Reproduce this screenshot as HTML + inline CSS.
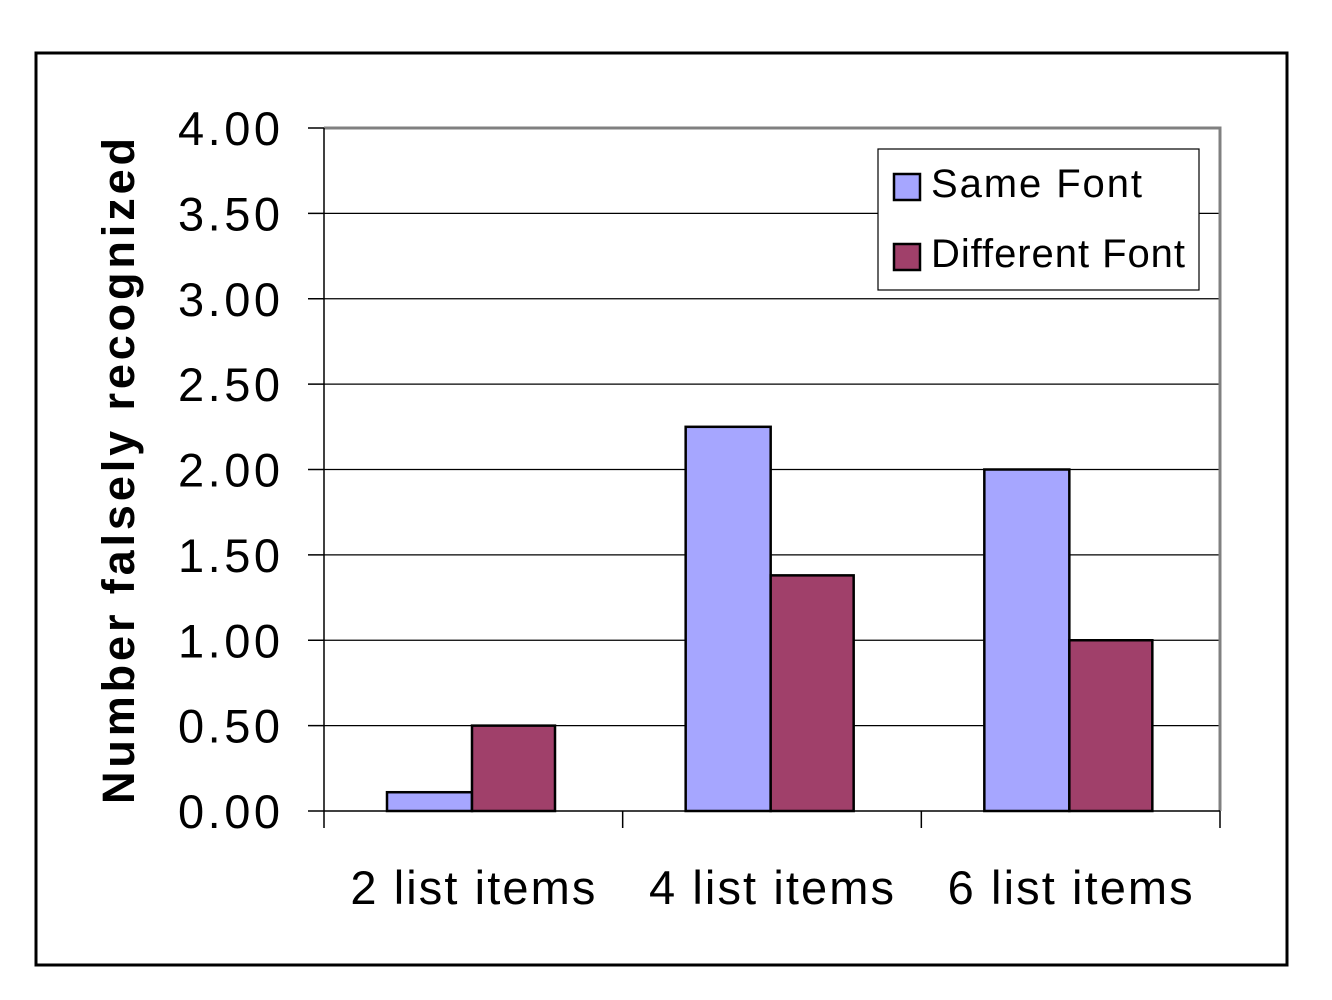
<!DOCTYPE html>
<html><head><meta charset="utf-8"><style>
html,body{margin:0;padding:0;background:#fff;}
svg{display:block;font-family:"Liberation Sans",Arial,sans-serif;}
</style></head><body>
<svg id="chart" width="1332" height="1000" xmlns="http://www.w3.org/2000/svg">
<rect x="36" y="53" width="1251" height="912" fill="#fff" stroke="#000" stroke-width="3"/>
<g id="grid"></g>
<g id="bars"></g>
<g id="axes"></g>
<text transform="translate(134,471) rotate(-90)" text-anchor="middle" font-size="45" font-weight="bold" textLength="666" lengthAdjust="spacing">Number falsely recognized</text>
<g>
<rect x="878" y="149" width="321" height="141" fill="#fff" stroke="#000" stroke-width="1.2"/>
<rect x="894" y="174" width="26" height="26" fill="#A6A6FF" stroke="#000" stroke-width="2.5"/>
<text x="931" y="197" font-size="40" textLength="211" lengthAdjust="spacing">Same Font</text>
<rect x="894" y="244" width="26" height="26" fill="#A0406A" stroke="#000" stroke-width="2.5"/>
<text x="931" y="267" font-size="40" textLength="254" lengthAdjust="spacing">Different Font</text>
</g>
</svg>
<script>
const categories = ["2 list items", "4 list items", "6 list items"];
const sameFont = [0.11, 2.25, 2.0];
const differentFont = [0.5, 1.38, 1.0];
const yTicks = [0, 0.5, 1, 1.5, 2, 2.5, 3, 3.5, 4];
const yTickLabels = ["0.00","0.50","1.00","1.50","2.00","2.50","3.00","3.50","4.00"];

const NS = "http://www.w3.org/2000/svg";
const X0 = 324, X1 = 1220, Y0 = 811, Y1 = 128, YMAX = 4;
const yScale = v => Y0 - v / YMAX * (Y0 - Y1);
const catW = (X1 - X0) / categories.length;
const xCat = i => X0 + i * catW;
function mk(tag, attrs, parent) {
  const e = document.createElementNS(NS, tag);
  for (const k in attrs) e.setAttribute(k, attrs[k]);
  parent.appendChild(e);
  return e;
}
const grid = document.getElementById('grid');
const bars = document.getElementById('bars');
const axes = document.getElementById('axes');

yTicks.forEach((t, i) => {
  const y = yScale(t);
  if (t > 0 && t < YMAX) {
    const l = mk('line', {x1: X0, x2: X1, y1: y, y2: y, stroke: '#000', 'stroke-width': 1.2}, grid);
    
    
  }
  const tk = mk('line', {x1: 308, x2: X0, y1: y, y2: y, stroke: '#000', 'stroke-width': 1.5}, axes);
  
  
  const tx = mk('text', {x: 178, y: y + 17, 'font-size': 47, textLength: 102, lengthAdjust: 'spacing'}, axes);
  tx.textContent = yTickLabels[i];
  
  
});
const frame = mk('path', {d: `M${X0} ${Y1} H${X1} V${Y0}`, fill: 'none', stroke: '#808080', 'stroke-width': 3}, grid);



const bw = 85, off = 63;
categories.forEach((c, i) => {
  const xs = xCat(i) + off;
  const b1 = mk('rect', {x: xs, y: yScale(sameFont[i]), width: bw, height: Y0 - yScale(sameFont[i]), fill: '#A6A6FF', stroke: '#000', 'stroke-width': 2.5}, bars);
  
  
  const b2 = mk('rect', {x: xs + bw, y: yScale(differentFont[i]), width: bw - 2, height: Y0 - yScale(differentFont[i]), fill: '#A0406A', stroke: '#000', 'stroke-width': 2.5}, bars);
  
  
  const tx = mk('text', {x: xCat(i) + catW / 2 - 123, y: 904, 'font-size': 47, textLength: 245, lengthAdjust: 'spacing'}, axes);
  tx.textContent = c;
  
  
});
for (let i = 0; i <= categories.length; i++) {
  const tk = mk('line', {x1: xCat(i), x2: xCat(i), y1: Y0, y2: 828, stroke: '#000', 'stroke-width': 1.5}, axes);
  
  
}
const ya = mk('line', {x1: X0, x2: X0, y1: Y1, y2: Y0, stroke: '#000', 'stroke-width': 1.5}, axes);


const xa = mk('line', {x1: X0, x2: X1, y1: Y0, y2: Y0, stroke: '#000', 'stroke-width': 1.5}, axes);


</script>
</body></html>
